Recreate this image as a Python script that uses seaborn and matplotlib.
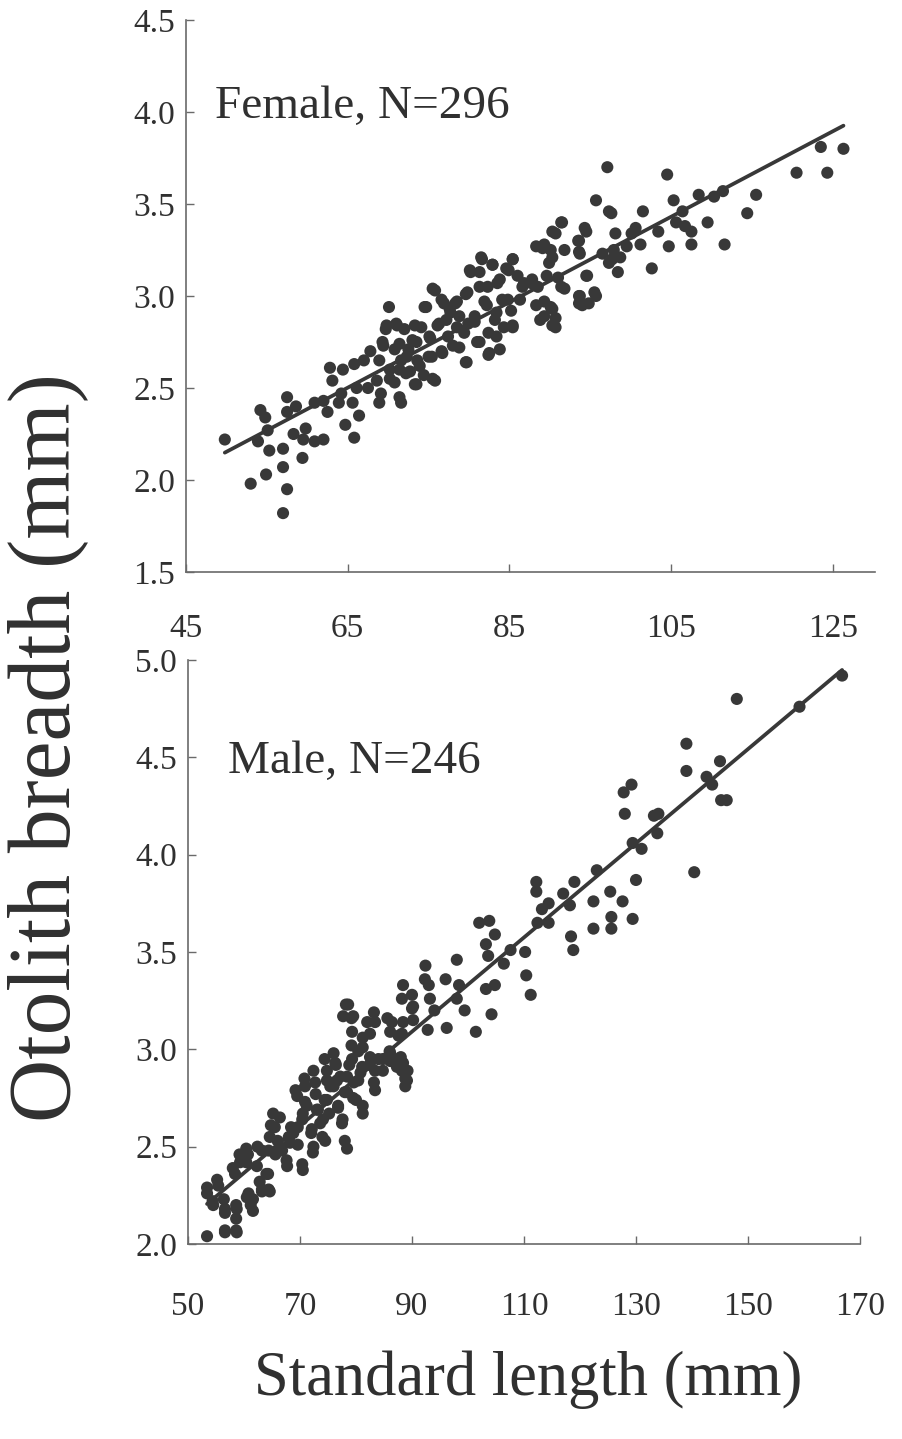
import matplotlib
matplotlib.use("Agg")
import matplotlib.pyplot as plt
import seaborn as sns
import pandas as pd

# ---------------- data ----------------
female_sl = [49.8, 53.0, 54.9, 57.0, 57.5, 57.0, 57.0, 59.4, 54.2, 54.8, 53.9, 55.3, 55.1,
             57.5, 57.5, 58.6, 58.3, 59.8, 59.5, 60.9, 62.0, 60.9, 62.0, 62.5, 62.8, 63.1,
             63.9, 64.2, 64.7, 64.4, 65.8, 65.6, 66.4, 66.1, 65.8, 67.0, 67.5, 67.8, 68.6,
             68.9, 68.9, 69.1, 69.4, 69.7, 70.1, 70.2, 70.8, 71.1, 71.4, 71.6, 71.6, 72.2,
             72.5, 73.0, 73.3, 73.6, 74.1, 74.4, 74.7, 75.0, 75.2, 75.8, 75.8, 76.3, 76.6,
             76.9, 77.4, 77.7, 78.3, 78.5, 78.8, 79.6, 79.6, 79.9, 80.2, 80.7, 81.0, 81.3,
             81.6, 81.9, 82.4, 82.4, 82.9, 83.2, 83.5, 83.8, 84.1, 84.3, 84.9, 85.2, 85.4,
             85.4, 86.3, 86.8, 87.7, 88.5, 88.8, 89.1, 89.3, 89.9, 90.1, 90.1, 90.7, 90.7,
             90.7, 91.0, 91.5, 91.8, 91.8, 93.5, 93.7, 93.7, 94.0, 94.3, 94.6, 94.8, 95.7,
             95.7, 96.5, 97.1, 97.3, 97.6, 97.9, 98.1, 98.4, 98.7, 99.5, 100.1, 100.6, 101.2,
             101.5, 102.6, 103.4, 104.5, 104.7, 105.3, 105.6, 106.4, 106.7, 107.5, 107.5,
             108.4, 109.5, 110.3, 111.4, 111.6, 114.4, 115.5, 120.5, 123.5, 124.3, 126.3,
             75.5, 76.6, 81.5, 82.9, 85.4, 80.1, 81.3, 84.6, 86.0, 83.8, 82.3, 79.8, 78.5,
             77.6, 74.5, 73.3, 72.0, 71.0, 69.8, 69.3, 70.8, 72.3, 73.5, 75.1, 76.1, 77.2,
             78.8, 79.4, 80.7, 82.2, 83.4, 84.8, 86.6, 87.8, 89.6, 91.4, 90.3, 88.3, 89.3,
             91.4, 90.3, 93.6, 94.5, 95.5, 93.6, 93.6, 94.5, 93.6, 97.3, 97.7, 88.3, 89.3,
             90.3, 90.3, 85.4, 83.4, 82.5, 81.3, 79.7, 78.0, 76.7, 75.4, 73.9, 72.7, 71.4,
             70.2, 75.5, 73.5, 71.4]
female_ob = [2.22, 1.98, 2.03, 1.82, 1.95, 2.07, 2.17, 2.12, 2.38, 2.34, 2.21, 2.16, 2.27,
             2.45, 2.37, 2.40, 2.25, 2.28, 2.22, 2.21, 2.22, 2.42, 2.43, 2.37, 2.61, 2.54,
             2.42, 2.47, 2.30, 2.60, 2.23, 2.42, 2.35, 2.50, 2.63, 2.65, 2.50, 2.70, 2.54,
             2.42, 2.65, 2.47, 2.73, 2.82, 2.94, 2.60, 2.53, 2.84, 2.74, 2.42, 2.65, 2.58,
             2.71, 2.76, 2.52, 2.65, 2.83, 2.57, 2.94, 2.67, 2.77, 2.54, 3.03, 2.85, 2.70,
             2.96, 2.78, 2.91, 2.96, 2.83, 2.72, 2.64, 3.01, 2.85, 3.13, 2.89, 2.75, 3.05,
             3.20, 2.97, 2.80, 2.68, 3.17, 2.87, 3.07, 2.71, 2.98, 2.83, 3.14, 2.92, 2.83,
             3.20, 2.98, 3.07, 3.07, 3.05, 2.87, 3.26, 2.97, 3.18, 3.25, 2.94, 2.83, 2.88,
             3.34, 3.10, 3.40, 3.25, 3.04, 3.30, 3.23, 3.00, 2.95, 3.37, 3.11, 2.96, 3.52,
             3.00, 3.23, 3.70, 3.18, 3.45, 3.25, 3.34, 3.13, 3.21, 3.27, 3.34, 3.37, 3.28,
             3.46, 3.15, 3.35, 3.66, 3.27, 3.52, 3.40, 3.46, 3.38, 3.28, 3.35,
             3.55, 3.40, 3.54, 3.57, 3.28, 3.45, 3.55, 3.67, 3.81, 3.67, 3.80,
             3.04, 2.98, 3.21, 3.17, 3.20, 3.14, 3.13, 3.15, 3.11, 3.09, 3.05, 3.02, 2.97,
             2.93, 2.94, 2.84, 2.82, 2.85, 2.84, 2.75, 2.71, 2.67, 2.75, 2.78, 2.84, 2.87,
             2.89, 2.80, 2.86, 2.95, 2.91, 2.98, 3.05, 3.09, 3.11, 3.05, 3.21, 3.27, 3.28,
             3.40, 3.35, 3.00, 3.11, 3.02, 2.96, 3.24, 3.35, 3.30, 3.46, 3.20, 2.95, 2.89,
             2.93, 2.84, 2.84, 2.78, 2.69, 2.75, 2.64, 2.73, 2.69, 2.67, 2.62, 2.59, 2.60,
             2.55, 2.55, 2.52, 2.45]

male_sl = [53.4, 53.4, 55.2, 54.4, 56.4, 56.6, 56.6, 58.6, 58.6, 58.6, 58.0, 59.2, 60.4,
           60.4, 60.8, 61.2, 62.4, 62.8, 63.2, 64.0, 64.4, 64.4, 64.8, 65.2, 65.6, 66.0,
           66.4, 66.8, 67.6, 68.0, 68.4, 69.2, 69.6, 70.4, 70.4, 70.8, 71.2, 72.0, 72.4,
           72.4, 72.8, 73.2, 73.6, 74.0, 74.4, 74.4, 74.8, 75.2, 76.0, 76.0, 76.4, 76.8,
           77.2, 77.6, 78.0, 78.2, 78.6, 78.4, 78.8, 79.2, 79.2, 79.6, 80.0, 80.4, 80.8,
           81.2, 81.2, 82.0, 82.4, 83.2, 83.2, 84.0, 84.8, 85.6, 86.0, 86.4, 86.8, 87.6,
           88.0, 88.4, 88.4, 88.4, 88.8, 89.2, 90.0, 90.0, 92.4, 92.8, 93.0, 93.2, 94.0,
           96.0, 96.2, 98.0, 98.4, 98.0, 99.4, 101.4, 102.0, 103.8, 103.2, 103.6, 104.8,
           103.2, 104.8, 104.2, 106.4, 107.6, 110.2, 110.4, 111.2, 112.2, 112.2, 112.4,
           113.2, 114.4, 114.4, 117.0, 118.2, 118.4, 118.8, 119.0, 122.4, 122.4, 123.0,
           125.4, 125.6, 125.6, 127.6, 128.0, 127.8, 129.2, 129.4, 129.4, 130.0, 131.0,
           133.2, 134.0, 133.8, 139.0, 139.0, 140.4, 142.6, 143.6, 145.0, 145.2, 146.2,
           148.0, 159.2, 166.8,
           53.4, 55.4, 54.5, 56.6, 56.6, 58.7, 58.7, 58.4, 59.3, 60.7, 60.5, 61.6, 61.6,
           62.3, 63.2, 63.2, 64.6, 64.3, 64.6, 65.5, 66.4, 67.7, 68.2, 68.8, 69.6, 70.5,
           70.5, 70.9, 69.5, 72.3, 72.1, 73.0, 72.7, 70.9, 74.1, 74.5, 74.8, 75.4, 74.8,
           76.3, 76.6, 76.8, 77.5, 78.4, 78.0, 78.4, 79.5, 80.4, 81.2, 81.1, 82.5, 83.4,
           83.4, 84.8, 86.1, 86.1, 87.3, 88.2, 89.1, 88.8, 88.2, 86.1, 82.5, 83.4, 81.2,
           79.3, 77.7, 79.5, 79.3, 90.2, 90.2, 88.2, 92.3]
male_ob = [2.04, 2.29, 2.33, 2.22, 2.23, 2.18, 2.07, 2.07, 2.13, 2.20, 2.39, 2.46, 2.49,
           2.42, 2.26, 2.20, 2.50, 2.32, 2.27, 2.36, 2.28, 2.48, 2.61, 2.67, 2.46, 2.53,
           2.65, 2.48, 2.43, 2.55, 2.60, 2.79, 2.51, 2.41, 2.64, 2.85, 2.71, 2.57, 2.50,
           2.89, 2.77, 2.69, 2.62, 2.55, 2.74, 2.95, 2.84, 2.67, 2.81, 2.98, 2.92, 2.71,
           2.86, 2.64, 2.53, 3.23, 3.23, 2.78, 2.92, 3.16, 3.02, 2.83, 2.74, 2.99, 2.88,
           2.71, 3.06, 3.14, 2.92, 3.19, 2.83, 2.95, 2.95, 3.16, 2.99, 3.14, 2.95, 3.07,
           2.96, 3.14, 2.93, 3.33, 2.85, 2.89, 3.28, 3.21, 3.43, 3.10, 3.33, 3.26, 3.20,
           3.36, 3.11, 3.46, 3.33, 3.26, 3.20, 3.09, 3.65, 3.66, 3.54, 3.48, 3.59,
           3.31, 3.33, 3.18, 3.44, 3.51, 3.50, 3.38, 3.28, 3.86, 3.81, 3.65,
           3.72, 3.75, 3.65, 3.80, 3.74, 3.58, 3.51, 3.86, 3.76, 3.62, 3.92,
           3.81, 3.68, 3.62, 3.76, 4.21, 4.32, 4.36, 3.67, 4.06, 3.87, 4.03,
           4.20, 4.21, 4.11, 4.57, 4.43, 3.91, 4.40, 4.36, 4.48, 4.28, 4.28,
           4.80, 4.76, 4.92,
           2.26, 2.30, 2.20, 2.16, 2.06, 2.18, 2.06, 2.36, 2.42, 2.46, 2.24, 2.17, 2.23,
           2.40, 2.48, 2.28, 2.27, 2.36, 2.55, 2.60, 2.50, 2.40, 2.52, 2.57, 2.60, 2.38,
           2.67, 2.73, 2.76, 2.47, 2.59, 2.69, 2.83, 2.81, 2.64, 2.53, 2.74, 2.81, 2.89,
           2.93, 2.84, 2.70, 2.62, 2.49, 2.78, 2.86, 2.75, 2.84, 2.67, 2.91, 2.96, 2.79,
           2.89, 2.89, 2.94, 2.98, 2.91, 2.89, 2.84, 2.81, 3.08, 3.09, 3.08, 3.14, 3.01,
           2.95, 3.17, 3.17, 3.09, 3.22, 3.15, 3.26, 3.36]

female_label = "Female, N=296"
male_label = "Male, N=246"
female_xticks = [45, 65, 85, 105, 125]
female_yticks = [1.5, 2.0, 2.5, 3.0, 3.5, 4.0, 4.5]
male_xticks = [50, 70, 90, 110, 130, 150, 170]
male_yticks = [2.0, 2.5, 3.0, 3.5, 4.0, 4.5, 5.0]
x_title = "Standard length (mm)"
y_title = "Otolith breadth (mm)"

# ---------------- styling ----------------
sns.set_theme(style="ticks")
plt.rcParams['font.family'] = ['Liberation Serif', 'DejaVu Serif']
ink = "#383838"
spine_c = "#6a6a6a"
text_c = "#303030"

W, H = 903, 1439
fig = plt.figure(figsize=(W / 100, H / 100), dpi=100)
fig.patch.set_facecolor("white")

ax1 = fig.add_axes([186 / W, 1 - 572 / H, (875 - 186) / W, (572 - 20) / H])
ax2 = fig.add_axes([188 / W, 1 - 1244 / H, (860 - 188) / W, (1244 - 660) / H])

df_f = pd.DataFrame({"sl": female_sl, "ob": female_ob})
df_m = pd.DataFrame({"sl": male_sl, "ob": male_ob})

for ax, df in ((ax1, df_f), (ax2, df_m)):
    sns.regplot(data=df, x="sl", y="ob", ax=ax, ci=None, truncate=True,
                scatter_kws=dict(s=76, color=ink, edgecolor="none", alpha=1, zorder=3),
                line_kws=dict(color=ink, lw=2.7, zorder=4))
    ax.set_xlabel("")
    ax.set_ylabel("")
    for s in ("top", "right"):
        ax.spines[s].set_visible(False)
    for s in ("left", "bottom"):
        ax.spines[s].set_color(spine_c)
        ax.spines[s].set_linewidth(1.2)
    ax.tick_params(direction="in", length=6, width=1.0, color=spine_c,
                   labelsize=24, labelcolor=text_c)
    ax.set_facecolor("white")

ax1.set_xlim(45, 130.2)
ax1.set_ylim(1.5, 4.5)
ax1.set_xticks(female_xticks)
ax1.set_yticks(female_yticks)
ax1.set_yticklabels([f"{v:.1f}" for v in female_yticks])
ax1.tick_params(axis="x", pad=30)
ax1.tick_params(axis="y", pad=8)

ax2.set_xlim(50, 170)
ax2.set_ylim(2.0, 5.0)
ax2.set_xticks(male_xticks)
ax2.set_yticks(male_yticks)
ax2.set_yticklabels([f"{v:.1f}" for v in male_yticks])
ax2.tick_params(axis="x", pad=34)
ax2.tick_params(axis="y", pad=8)

fig.text(215 / W, 1 - 118 / H, female_label, fontsize=34, color=text_c, va="baseline", ha="left")
fig.text(228 / W, 1 - 773 / H, male_label, fontsize=34, color=text_c, va="baseline", ha="left")
fig.text(528 / W, 1 - 1380 / H, x_title, fontsize=45, color=text_c, va="center", ha="center")
fig.text(48 / W, 1 - 748 / H, y_title, fontsize=63, color=text_c, va="center", ha="center",
         rotation=90)

fig.savefig("out.png", dpi=100, facecolor="white")
